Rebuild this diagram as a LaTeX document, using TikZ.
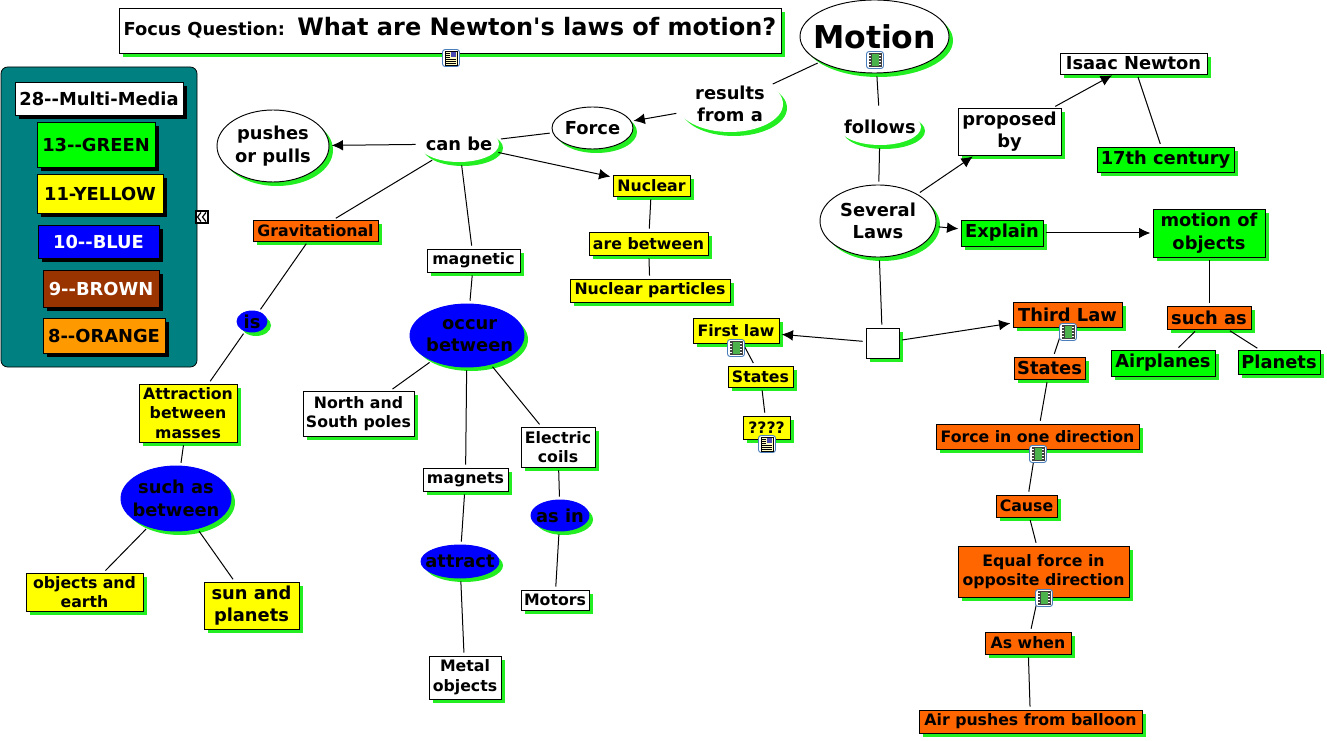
\documentclass[tikz,border=0pt]{standalone}
\usepackage{fontspec}
\setmainfont{DejaVu Sans}[BoldFont={DejaVu Sans Bold},Ligatures=TeXOff]
\usetikzlibrary{shapes.geometric,arrows.meta,calc}
\definecolor{gr}{HTML}{00FF00}
\definecolor{sgr}{HTML}{22EE22}
\definecolor{yel}{HTML}{FFFF00}
\definecolor{blu}{HTML}{0000FF}
\definecolor{org}{HTML}{FF6600}
\definecolor{teal1}{HTML}{008080}
\definecolor{brn}{HTML}{993300}
\definecolor{org2}{HTML}{FF9900}
\definecolor{iconb}{HTML}{4A7EBB}
\newcommand{\fsz}[1]{\fontsize{#1}{\fpeval{#1*1.25}}\selectfont\bfseries}
\tikzset{
  rim white/.style={draw=black},
  rim blu/.style={draw=blu},
  conn/.style={draw=black,line width=.75pt,shorten <=2.5pt,shorten >=2.5pt},
  arr/.style={conn,-{Latex[length=8.5pt,width=8pt]},shorten >=2pt},
}
\newcommand{\bx}[9]{%
  \fill[#7] (#2+4,#3+4) rectangle (#4+4,#5+4);
  \node[draw=black,fill=#6,line width=.7pt,rectangle,inner sep=0pt,outer sep=0pt,
    minimum width={(#4-#2)*0.75pt},minimum height={(#5-#3)*0.75pt},
    font=\fsz{#8},align=center] (#1) at ({(#2+#4)/2},{(#3+#5)/2}) {#9};}
\newcommand{\el}[9]{%
  \fill[#7] ({(#2+#4)/2+4},{(#3+#5)/2+4}) ellipse [x radius={(#4-#2)/2},y radius={(#5-#3)/2}];
  \node[ellipse,rim #6,fill=#6,line width=.7pt,inner sep=0pt,outer sep=0pt,
    minimum width={(#4-#2)*0.75pt},minimum height={(#5-#3)*0.75pt},
    label={[align=center,font=\fsz{#8},inner sep=0pt]center:{#9}}] (#1) at ({(#2+#4)/2},{(#3+#5)/2}) {};}
\newcommand{\lk}[7]{%
  \fill[sgr] (#2+4,#3+4) ellipse [x radius=#4,y radius=#5];
  \node[ellipse,fill=white,inner sep=0pt,outer sep=0pt,
    minimum width={2*#4*0.75pt},minimum height={2*#5*0.75pt},
    label={[align=center,font=\fsz{#6},inner sep=0pt]center:{#7}}] (#1) at (#2,#3) {};}
\newcommand{\film}[2]{%
  \draw[iconb,fill=white,line width=.7pt,rounded corners=2pt] (#1-8.5,#2-8.5) rectangle (#1+8.5,#2+8.5);
  \fill[black!75] (#1-6.5,#2-7) rectangle (#1+6.5,#2+7);
  \fill[green!40!gray] (#1-3.5,#2-6) rectangle (#1+3.5,#2+6);
  \foreach \q in {-5,-2,1,4}{\fill[white] (#1-5.7,#2+\q) rectangle (#1-4.3,#2+\q+1.4);\fill[white] (#1+4.3,#2+\q) rectangle (#1+5.7,#2+\q+1.4);}}
\newcommand{\doc}[2]{%
  \draw[iconb,fill=white,line width=.7pt,rounded corners=2pt] (#1-8.5,#2-8.5) rectangle (#1+8.5,#2+8.5);
  \draw[black,fill=yellow!25,line width=.4pt] (#1-6,#2-7) rectangle (#1+6,#2+7);
  \fill[blue!40!gray] (#1+0,#2-6) rectangle (#1+5,#2-1);
  \foreach \q in {-5,-3,-1}{\draw[black,line width=.4pt] (#1-5,#2+\q) -- (#1-1,#2+\q);}
  \foreach \q in {1.5,3.5,5.5}{\draw[black,line width=.4pt] (#1-5,#2+\q) -- (#1+5,#2+\q);}}
\begin{document}
\begin{tikzpicture}[x=0.75pt,y=-0.75pt]
\useasboundingbox (0,0) rectangle (1327,741);
\fill[white] (0,0) rectangle (1327,741);
% focus question
\bx{focus}{119}{8}{781}{53}{white}{sgr}{13.4}{\raisebox{-3.4pt}[0pt][0pt]{\fsz{13.4}Focus Question:\ \ \fsz{18}What are Newton's laws of motion?}}
% legend
\node[draw=black,fill=teal1,rounded corners=5pt,line width=.6pt,minimum width={196*0.75pt},minimum height={300*0.75pt},inner sep=0pt,outer sep=0pt] (legend) at (99,217) {};
\bx{lg1}{15}{82}{183}{115}{white}{black}{13.4}{28--Multi-Media}
\bx{lg2}{37}{122}{155}{167}{gr}{black}{13.4}{13--GREEN}
\bx{lg3}{37}{174}{163}{213}{yel}{black}{13.4}{11-YELLOW}
\bx{lg4}{38}{225}{159}{258}{blu}{black}{13.4}{\color{white}10--BLUE}
\bx{lg5}{43}{270}{159}{307}{brn}{black}{13.4}{\color{white}9--BROWN}
\bx{lg6}{43}{318}{165}{353}{org2}{black}{13.4}{8--ORANGE}
\node[draw=black,fill=white,line width=.8pt,minimum width={12*0.75pt},minimum height={12*0.75pt},inner sep=0pt] (collapse) at (202,217) {};
\draw[black,line width=.9pt] (201,212.5) -- (197.5,217) -- (201,221.5) (206,212.5) -- (202.5,217) -- (206,221.5);
% top
\el{motion}{800}{0}{949}{73}{white}{sgr}{23.6}{Motion}
\lk{results}{730}{104}{53}{28}{13.4}{results\\from a}
\lk{follows}{880}{127}{41}{18}{13.4}{follows}
\el{several}{820}{185}{936}{257}{white}{sgr}{13.4}{Several\hspace{4pt}\\Laws\hspace{4pt}}
\el{force}{552}{107}{633}{149}{white}{sgr}{13.4}{Force}
\lk{canbe}{459}{144}{40}{18}{13.4}{can be}
\el{pushes}{217}{110}{329}{182}{white}{sgr}{13.4}{pushes\\or pulls}
% right
\bx{proposed}{958}{108}{1061}{155}{white}{sgr}{13.4}{proposed\\by}
\bx{isaac}{1060}{53}{1207}{74}{white}{sgr}{13.4}{Isaac Newton}
\bx{century}{1097}{147}{1234}{172}{gr}{sgr}{13.4}{17th century}
\bx{explain}{961}{220}{1043}{246}{gr}{sgr}{13.4}{Explain}
\bx{objects}{1153}{209}{1265}{257}{gr}{sgr}{13.4}{motion of\\objects}
\bx{suchas}{1167}{306}{1251}{329}{org}{sgr}{13.4}{such as}
\bx{airplanes}{1111}{350}{1215}{376}{gr}{sgr}{13.4}{Airplanes}
\bx{planets}{1238}{350}{1320}{374}{gr}{sgr}{13.4}{Planets}
% third law
\bx{third}{1013}{302}{1122}{327}{org}{sgr}{13.4}{Third Law}
\bx{states3}{1014}{357}{1085}{379}{org}{sgr}{13.4}{States}
\bx{fone}{936}{424}{1139}{449}{org}{sgr}{11.8}{Force in one direction}
\bx{cause}{996}{495}{1057}{517}{org}{sgr}{11.8}{Cause}
\bx{equal}{958}{546}{1129}{597}{org}{sgr}{11.8}{Equal force in\\opposite direction}
\bx{aswhen}{985}{632}{1071}{654}{org}{sgr}{11.8}{As when}
\bx{air}{919}{710}{1142}{733}{org}{sgr}{11.8}{Air pushes from balloon}
\bx{junction}{866}{328}{899}{358}{white}{sgr}{10}{}
% first law
\bx{first}{693}{318}{779}{343}{yel}{sgr}{11.8}{First law}
\bx{states1}{728}{366}{793}{387}{yel}{sgr}{11.8}{States}
\bx{qqqq}{743}{416}{790}{439}{yel}{sgr}{11.8}{????}
% nuclear
\bx{nuclear}{613}{175}{690}{196}{yel}{sgr}{11.8}{Nuclear}
\bx{arebetween}{589}{232}{708}{255}{yel}{sgr}{11.8}{are between}
\bx{nparticles}{570}{279}{730}{302}{yel}{sgr}{11.8}{Nuclear particles}
% gravitational
\bx{grav}{253}{220}{378}{241}{org}{sgr}{11.8}{Gravitational}
\el{is}{237}{311}{267}{332}{blu}{sgr}{13.4}{is}
\bx{attr}{139}{384}{237}{442}{yel}{sgr}{11.8}{Attraction\\between\\masses}
\el{suchb}{121}{466}{231}{531}{blu}{sgr}{13.4}{such as\\between}
\bx{oearth}{26}{573}{143}{611}{yel}{sgr}{11.8}{objects and\hspace{3pt}\\earth}
\bx{sunp}{204}{582}{299}{629}{yel}{sgr}{13.4}{sun and\hspace{4pt}\\planets\hspace{4pt}}
% magnetic
\bx{magnetic}{427}{249}{520}{272}{white}{sgr}{11.8}{magnetic}
\el{occur}{410}{304}{524}{367}{blu}{sgr}{13.4}{\hspace*{4pt}occur\\\hspace*{4pt}between}
\bx{nsp}{303}{391}{414}{436}{white}{sgr}{11.8}{North and\\South poles}
\bx{magnets}{423}{468}{508}{491}{white}{sgr}{11.8}{magnets}
\el{attract}{421}{545}{499}{578}{blu}{sgr}{13.4}{attract}
\bx{metal}{429}{656}{501}{699}{white}{sgr}{11.8}{Metal\\objects}
\bx{coils}{521}{427}{595}{467}{white}{sgr}{11.8}{Electric\\coils}
\el{asin}{531}{500}{589}{531}{blu}{sgr}{13.4}{as in}
\bx{motors}{521}{590}{589}{610}{white}{sgr}{11.8}{Motors}
% connectors
\draw[conn] (motion) -- (results);
\draw[arr] (results) -- (force);
\draw[conn] (force) -- (canbe);
\draw[arr] (canbe) -- (pushes);
\draw[conn] (canbe) -- (grav);
\draw[conn] (canbe) -- (magnetic);
\draw[arr] (canbe) -- (nuclear);
\draw[conn] (nuclear) -- (arebetween);
\draw[conn] (arebetween) -- (nparticles);
\draw[conn] (grav) -- (is);
\draw[conn] (is) -- (attr);
\draw[conn] (attr) -- (suchb);
\draw[conn] (suchb) -- (oearth);
\draw[conn] (suchb) -- (sunp);
\draw[conn] (magnetic) -- (occur);
\draw[conn] (occur) -- (nsp);
\draw[conn] (occur) -- (magnets);
\draw[conn] (occur) -- (coils);
\draw[conn] (magnets) -- (attract);
\draw[conn] (attract) -- (metal);
\draw[conn] (coils) -- (asin);
\draw[conn] (asin) -- (motors);
\draw[conn] (motion) -- (follows);
\draw[conn] (follows) -- (several);
\draw[arr] (several) -- (proposed);
\draw[arr] (proposed) -- (isaac);
\draw[conn] (isaac) -- (century);
\draw[arr] (several) -- (explain);
\draw[arr] (explain) -- (objects);
\draw[conn] (objects) -- (suchas);
\draw[conn] (suchas) -- (airplanes);
\draw[conn] (suchas) -- (planets);
\draw[conn] (several) -- (junction);
\draw[arr] (junction) -- (first);
\draw[arr] (junction) -- (third);
\draw[conn] (first) -- (states1);
\draw[conn] (states1) -- (qqqq);
\draw[conn] (third) -- (states3);
\draw[conn] (states3) -- (fone);
\draw[conn] (fone) -- (cause);
\draw[conn] (cause) -- (equal);
\draw[conn] (equal) -- (aswhen);
\draw[conn] (aswhen) -- (air);
% icons
\doc{451}{58}
\film{875}{60}
\film{736}{348}
\doc{767}{444}
\film{1068}{332}
\film{1038}{454}
\film{1044}{598}
\end{tikzpicture}
\end{document}
